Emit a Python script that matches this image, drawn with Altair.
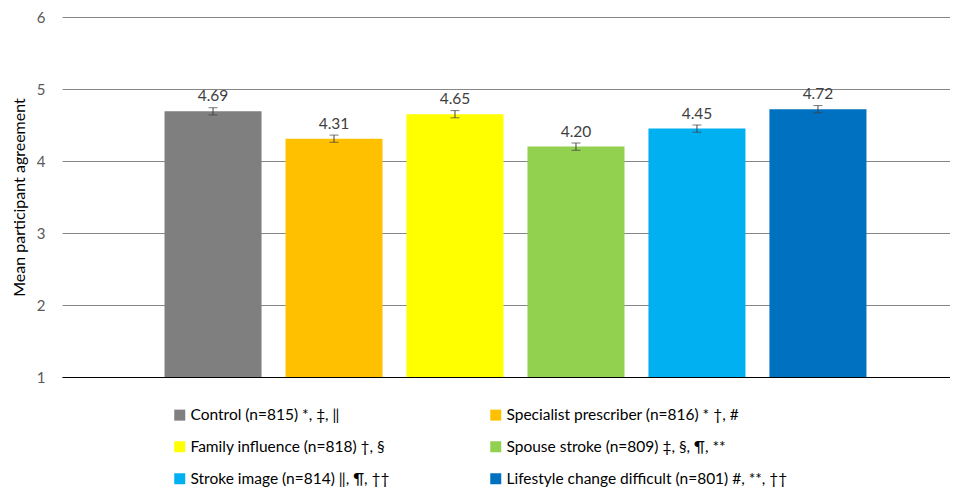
import altair as alt
import pandas as pd

categories = [
    "Control (n=815) *, ‡, ‖",
    "Specialist prescriber (n=816) * †, #",
    "Family influence (n=818) †, §",
    "Spouse stroke (n=809) ‡, §, ¶, **",
    "Stroke image (n=814) ‖, ¶, ††",
    "Lifestyle change difficult (n=801) #, **, ††",
]
means = [4.69, 4.31, 4.65, 4.20, 4.45, 4.72]
errors = [0.05, 0.05, 0.05, 0.05, 0.05, 0.05]
colors = ["#7F7F7F", "#FFC000", "#FFFF00", "#92D050", "#00B0F0", "#0070C0"]
labels = ["4.69", "4.31", "4.65", "4.20", "4.45", "4.72"]

# legend is laid out column by column: left column first, then right column
legend_order = [0, 2, 4, 1, 3, 5]
legend_domain = [categories[i] for i in legend_order]
legend_range = [colors[i] for i in legend_order]

df = pd.DataFrame({
    "cat": categories,
    "mean": means,
    "lo": [m - e for m, e in zip(means, errors)],
    "hi": [m + e for m, e in zip(means, errors)],
    "label": labels,
})

FONT = "Lato"

x = alt.X("cat:N", sort=categories,
          scale=alt.Scale(paddingInner=0.198, paddingOuter=0.769, align=0.551),
          axis=alt.Axis(labels=False, ticks=False, title=None, domain=True,
                        domainColor="#000000", domainWidth=1, grid=False))
yscale = alt.Scale(domain=[1, 6], nice=False, zero=False)

base = alt.Chart(df)

bars = base.mark_bar().encode(
    x=x,
    y=alt.Y("mean:Q", scale=yscale,
            axis=alt.Axis(values=[1, 2, 3, 4, 5, 6], format="d",
                          title="Mean participant agreement",
                          titleFont=FONT, titleFontSize=16, titleFontWeight="normal",
                          titleColor="#000000", titlePadding=9,
                          labelFont=FONT, labelFontSize=15, labelColor="#595959",
                          labelPadding=17, ticks=False, domain=False,
                          gridColor="#868686", gridWidth=1)),
    y2=alt.datum(1),
    color=alt.Color("cat:N",
                    scale=alt.Scale(domain=legend_domain, range=legend_range),
                    legend=alt.Legend(title=None, orient="none", legendX=110, legendY=390,
                                      columns=2, columnPadding=98, rowPadding=15,
                                      symbolType="square", symbolSize=121,
                                      symbolStrokeWidth=0, symbolOffset=0,
                                      labelFont=FONT, labelFontSize=15.5, labelColor="#000000",
                                      labelLimit=500, labelOffset=3)),
)

rules = base.mark_rule(color="#404040", strokeWidth=1).encode(
    x=alt.X("cat:N", sort=categories), y=alt.Y("lo:Q", scale=yscale), y2="hi:Q")
caps_lo = base.mark_tick(color="#404040", size=9, thickness=1).encode(
    x=alt.X("cat:N", sort=categories), y=alt.Y("lo:Q", scale=yscale))
caps_hi = base.mark_tick(color="#404040", size=9, thickness=1).encode(
    x=alt.X("cat:N", sort=categories), y=alt.Y("hi:Q", scale=yscale))

text = base.mark_text(baseline="bottom", dy=-7, font=FONT, fontSize=15.5, color="#404040").encode(
    x=alt.X("cat:N", sort=categories), y=alt.Y("mean:Q", scale=yscale), text="label:N")

chart = alt.layer(bars, rules, caps_lo, caps_hi, text).properties(
    width=888, height=360,
    autosize=alt.AutoSizeParams(type="none"),
    padding={"left": 54, "top": 9, "right": 0, "bottom": 115},
).configure_view(stroke=None)

chart.save("out.html", embed_options={"renderer": "svg", "actions": False})
